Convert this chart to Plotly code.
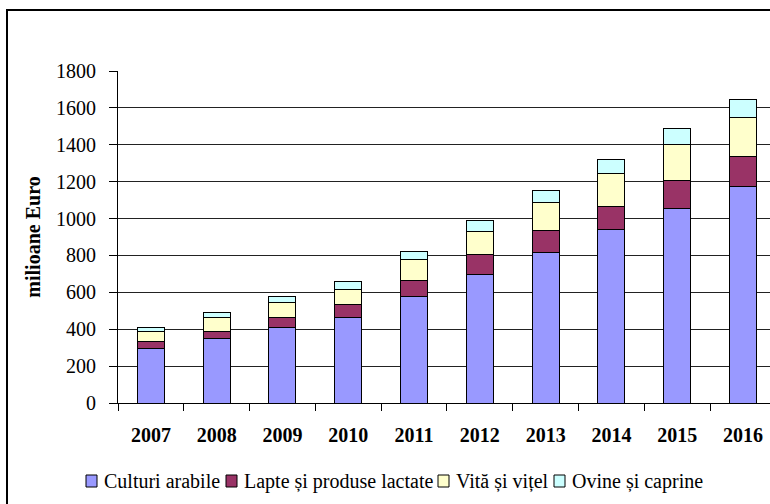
import plotly.graph_objects as go

years = ["2007", "2008", "2009", "2010", "2011", "2012", "2013", "2014", "2015", "2016"]
culturi_arabile = [293, 349, 408, 465, 580, 698, 815, 938, 1056, 1173]
lapte = [38, 41, 57, 70, 83, 106, 118, 125, 150, 161]
vita = [54, 75, 79, 83, 116, 127, 153, 182, 195, 215]
ovine = [23, 25, 31, 40, 45, 60, 64, 74, 87, 98]

series_names = ["Culturi arabile", "Lapte și produse lactate", "Vită și vițel", "Ovine și caprine"]
series_values = [culturi_arabile, lapte, vita, ovine]
colors = ["#9999FF", "#993366", "#FFFFCC", "#CCFFFF"]
y_ticks = [0, 200, 400, 600, 800, 1000, 1200, 1400, 1600, 1800]

FONT = "Liberation Serif"
W, H = 770, 504
L, R, T, B = 118, 0, 71, 101
PW = W - L - R
PH = H - T - B

def px_x(p):
    return (p - L) / PW

def px_y(p):
    return (H - B - p) / PH

fig = go.Figure()
for name, vals, col in zip(series_names, series_values, colors):
    fig.add_trace(go.Bar(
        x=years, y=vals, name=name,
        marker=dict(color=col, line=dict(color="black", width=1)),
        width=0.41, showlegend=False,
    ))

# custom legend (tight spacing as in the reference)
legend_sq = [86, 226, 438, 554]
legend_y = 481
shapes = [dict(
    type="rect", xref="paper", yref="paper",
    x0=px_x(7), x1=px_x(800), y0=px_y(560), y1=px_y(10),
    line=dict(color="black", width=2), fillcolor="rgba(0,0,0,0)", layer="below",
)]
annotations = []
for name, col, sx in zip(series_names, colors, legend_sq):
    shapes.append(dict(
        type="rect", xref="paper", yref="paper",
        x0=px_x(sx), x1=px_x(sx + 11), y0=px_y(legend_y + 6), y1=px_y(legend_y - 6),
        line=dict(color="black", width=1), fillcolor=col, layer="above",
    ))
    annotations.append(dict(
        xref="paper", yref="paper", x=px_x(sx + 16), y=px_y(legend_y),
        xanchor="left", yanchor="middle", showarrow=False,
        text=name, font=dict(family=FONT, size=20, color="black"),
    ))

fig.update_layout(
    width=W, height=H,
    margin=dict(l=L, r=R, t=T, b=B, pad=0),
    paper_bgcolor="white", plot_bgcolor="white",
    barmode="stack",
    font=dict(family=FONT, color="black"),
    xaxis=dict(
        type="category",
        range=[-0.5, 9.41],
        showline=True, linecolor="black", linewidth=1,
        ticks="outside", tickson="boundaries", ticklen=7, tickcolor="black",
        tickfont=dict(family=FONT, size=20, color="black", weight="bold"),
        ticklabelstandoff=14,
        showgrid=False, zeroline=False,
    ),
    yaxis=dict(
        range=[0, 1800], tickvals=y_ticks,
        showline=True, linecolor="black", linewidth=1,
        ticks="outside", ticklen=8, tickcolor="black",
        tickfont=dict(family=FONT, size=20, color="black"),
        ticklabelstandoff=9,
        showgrid=True, gridcolor="#222222", gridwidth=1,
        zeroline=False,
        title=dict(text="<b>milioane Euro</b>", font=dict(family=FONT, size=20, color="black"), standoff=10),
    ),
    shapes=shapes,
    annotations=annotations,
)

fig.write_html("out.html")
